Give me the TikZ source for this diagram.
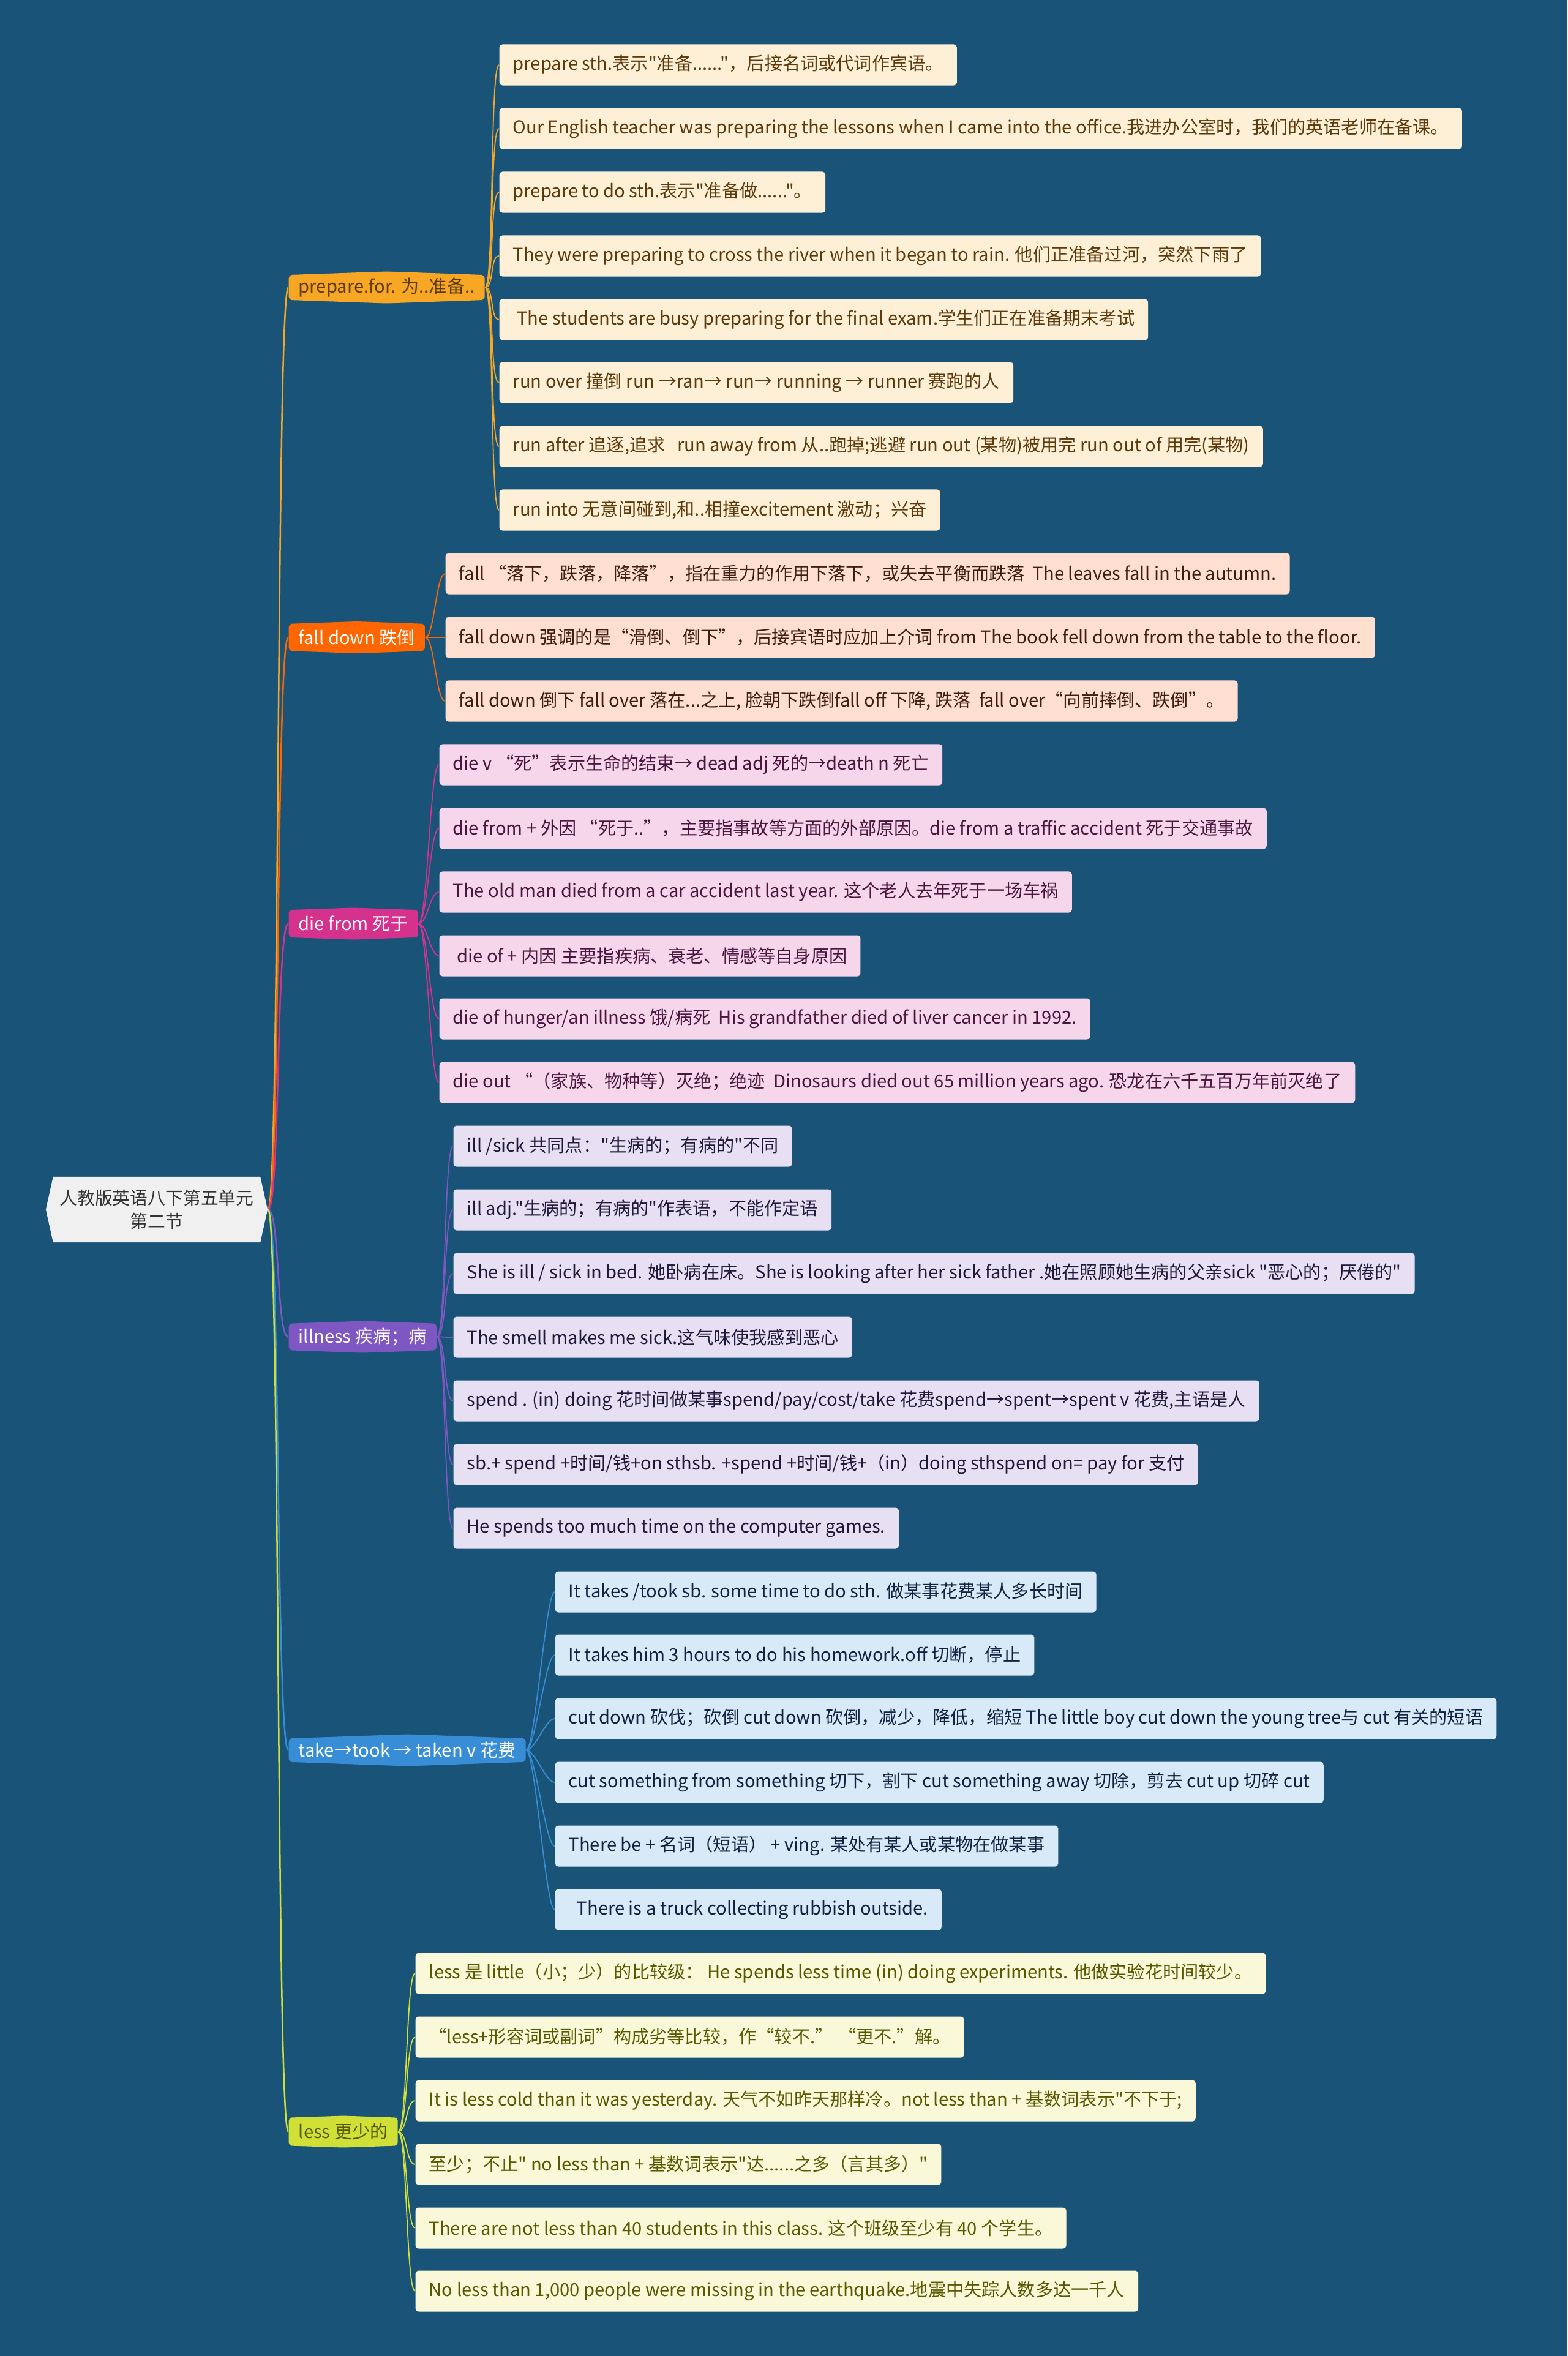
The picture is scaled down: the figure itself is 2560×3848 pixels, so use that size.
\documentclass[tikz,border=0pt]{standalone}
\usepackage{fontspec}
\newfontfamily\cjkfont{Noto Sans CJK SC}
\usepackage{tikz}
\usetikzlibrary{shapes.symbols}
\definecolor{bgblue}{RGB}{25,83,120}
\definecolor{rootfill}{RGB}{240,240,240}
\definecolor{roottext}{RGB}{51,51,51}
\definecolor{prepcol}{RGB}{248,167,36}
\definecolor{prepleaf}{RGB}{254,240,214}
\definecolor{preptext}{RGB}{92,58,12}
\definecolor{fallcol}{RGB}{255,102,0}
\definecolor{fallleaf}{RGB}{255,224,208}
\definecolor{falltext}{RGB}{62,30,16}
\definecolor{diecol}{RGB}{212,50,140}
\definecolor{dieleaf}{RGB}{245,214,235}
\definecolor{dietext}{RGB}{74,22,62}
\definecolor{illcol}{RGB}{126,87,194}
\definecolor{illleaf}{RGB}{230,224,242}
\definecolor{illtext}{RGB}{30,26,58}
\definecolor{takecol}{RGB}{56,142,214}
\definecolor{takeleaf}{RGB}{216,233,247}
\definecolor{taketext}{RGB}{14,36,64}
\definecolor{lesscol}{RGB}{208,224,54}
\definecolor{lessleaf}{RGB}{249,249,218}
\definecolor{lesstext}{RGB}{88,88,0}

\begin{document}
\begin{tikzpicture}[x=0.01cm, y=-0.01cm,
    font=\cjkfont\fontsize{8.3pt}{10pt}\selectfont,
    leaf/.style={rounded corners=0.05cm, anchor=west, minimum height=0.67cm, inner xsep=0.22cm, inner ysep=0pt},
    branch/.style={shape=signal, signal to=north and south, signal pointer angle=176, rounded corners=0.05cm, anchor=west, minimum height=0.52cm, inner xsep=0.16cm, inner ysep=0pt},
    link/.style={line width=0.025cm},
    twig/.style={line width=0.018cm}]

    % background
    \fill[bgblue] (0,0) rectangle (2560,3848);

    % root
    \node[shape=signal, signal to=east and west, signal pointer angle=155, fill=rootfill, text=roottext,
          align=center, font=\cjkfont\fontsize{8.2pt}{11pt}\selectfont, minimum width=3.62cm, minimum height=1.07cm,
          inner sep=0pt] (root) at (256,1975.5) {人教版英语八下第五单元\\第二节};

    % prepare.for
    \node[branch, fill=prepcol, text=preptext] (prep) at (471,469.5) {prepare.for. 为..准备..};
    \node[leaf, fill=prepleaf, text=preptext] (p1) at (815,106) {prepare sth.表示"准备......"，后接名词或代词作宾语。};
    \node[leaf, fill=prepleaf, text=preptext] (p2) at (815,210) {Our English teacher was preparing the lessons when I came into the office.我进办公室时，我们的英语老师在备课。};
    \node[leaf, fill=prepleaf, text=preptext] (p3) at (815,314) {prepare to do sth.表示"准备做......"。};
    \node[leaf, fill=prepleaf, text=preptext] (p4) at (815,418) {They were preparing to cross the river when it began to rain. 他们正准备过河，突然下雨了};
    \node[leaf, fill=prepleaf, text=preptext] (p5) at (815,522) {\ The students are busy preparing for the final exam.学生们正在准备期末考试};
    \node[leaf, fill=prepleaf, text=preptext] (p6) at (815,625) {run over 撞倒 run →ran→ run→ running → runner 赛跑的人};
    \node[leaf, fill=prepleaf, text=preptext] (p7) at (815,729) {run after 追逐,追求\ \ \ run away from 从..跑掉;逃避 run out (某物)被用完 run out of 用完(某物)};
    \node[leaf, fill=prepleaf, text=preptext] (p8) at (815,833) {run into 无意间碰到,和..相撞excitement 激动；兴奋};

    % fall down
    \node[branch, fill=fallcol, text=white] (fall) at (471,1041) {fall down 跌倒};
    \node[leaf, fill=fallleaf, text=falltext] (f1) at (727,937) {fall “落下，跌落，降落”，指在重力的作用下落下，或失去平衡而跌落\ \ The leaves fall in the autumn.};
    \node[leaf, fill=fallleaf, text=falltext] (f2) at (727,1041) {fall down 强调的是“滑倒、倒下”，后接宾语时应加上介词 from The book fell down from the table to the floor.};
    \node[leaf, fill=fallleaf, text=falltext] (f3) at (727,1145) {fall down 倒下 fall over 落在...之上, 脸朝下跌倒fall off 下降, 跌落\ \ fall over“向前摔倒、跌倒”。};

    % die from
    \node[branch, fill=diecol, text=white] (die) at (471,1508.5) {die from 死于};
    \node[leaf, fill=dieleaf, text=dietext] (d1) at (717,1249) {die v “死”表示生命的结束→ dead adj 死的→death n 死亡};
    \node[leaf, fill=dieleaf, text=dietext] (d2) at (717,1353) {die from + 外因 “死于..”，主要指事故等方面的外部原因。die from a traffic accident 死于交通事故};
    \node[leaf, fill=dieleaf, text=dietext] (d3) at (717,1457) {The old man died from a car accident last year. 这个老人去年死于一场车祸};
    \node[leaf, fill=dieleaf, text=dietext] (d4) at (717,1561) {\ die of + 内因 主要指疾病、衰老、情感等自身原因};
    \node[leaf, fill=dieleaf, text=dietext] (d5) at (717,1664) {die of hunger/an illness 饿/病死\ \ His grandfather died of liver cancer in 1992.};
    \node[leaf, fill=dieleaf, text=dietext] (d6) at (717,1768) {die out “（家族、物种等）灭绝；绝迹\ \ Dinosaurs died out 65 million years ago. 恐龙在六千五百万年前灭绝了};

    % illness
    \node[branch, fill=illcol, text=white] (ill) at (471,2183.5) {illness 疾病；病};
    \node[leaf, fill=illleaf, text=illtext] (i1) at (740,1872) {ill /sick 共同点："生病的；有病的"不同};
    \node[leaf, fill=illleaf, text=illtext] (i2) at (740,1976) {ill adj."生病的；有病的"作表语，不能作定语};
    \node[leaf, fill=illleaf, text=illtext] (i3) at (740,2080) {She is ill / sick in bed. 她卧病在床。She is looking after her sick father .她在照顾她生病的父亲sick "恶心的；厌倦的"};
    \node[leaf, fill=illleaf, text=illtext] (i4) at (740,2184) {The smell makes me sick.这气味使我感到恶心};
    \node[leaf, fill=illleaf, text=illtext] (i5) at (740,2288) {spend . (in) doing 花时间做某事spend/pay/cost/take 花费spend→spent→spent v 花费,主语是人};
    \node[leaf, fill=illleaf, text=illtext] (i6) at (740,2392) {sb.+ spend +时间/钱+on sthsb. +spend +时间/钱+（in）doing sthspend on= pay for 支付};
    \node[leaf, fill=illleaf, text=illtext] (i7) at (740,2496) {He spends too much time on the computer games.};

    % take
    \node[branch, fill=takecol, text=white] (take) at (471,2858.5) {take→took → taken v 花费};
    \node[leaf, fill=takeleaf, text=taketext] (t1) at (906,2600) {It takes /took sb. some time to do sth. 做某事花费某人多长时间};
    \node[leaf, fill=takeleaf, text=taketext] (t2) at (906,2703) {It takes him 3 hours to do his homework.off 切断，停止};
    \node[leaf, fill=takeleaf, text=taketext] (t3) at (906,2807) {cut down 砍伐；砍倒 cut down 砍倒，减少，降低，缩短 The little boy cut down the young tree与 cut 有关的短语};
    \node[leaf, fill=takeleaf, text=taketext] (t4) at (906,2911) {cut something from something 切下，割下 cut something away 切除，剪去 cut up 切碎 cut};
    \node[leaf, fill=takeleaf, text=taketext] (t5) at (906,3015) {There be + 名词（短语） + ving. 某处有某人或某物在做某事};
    \node[leaf, fill=takeleaf, text=taketext] (t6) at (906,3119) {\ \ There is a truck collecting rubbish outside.\ };

    % less
    \node[branch, fill=lesscol, text=lesstext] (less) at (471,3481.5) {less 更少的};
    \node[leaf, fill=lessleaf, text=lesstext] (l1) at (678,3223) {less 是 little（小；少）的比较级： He spends less time (in) doing experiments. 他做实验花时间较少。};
    \node[leaf, fill=lessleaf, text=lesstext] (l2) at (678,3327) {“less+形容词或副词”构成劣等比较，作“较不.” “更不.”解。};
    \node[leaf, fill=lessleaf, text=lesstext] (l3) at (678,3431) {It is less cold than it was yesterday. 天气不如昨天那样冷。not less than + 基数词表示"不下于;};
    \node[leaf, fill=lessleaf, text=lesstext] (l4) at (678,3535) {至少；不止" no less than + 基数词表示"达......之多（言其多）"};
    \node[leaf, fill=lessleaf, text=lesstext] (l5) at (678,3639) {There are not less than 40 students in this class. 这个班级至少有 40 个学生。};
    \node[leaf, fill=lessleaf, text=lesstext] (l6) at (678,3742) {No less than 1,000 people were missing in the earthquake.地震中失踪人数多达一千人};

    % connectors
    \draw[link, prepcol] (root.east) .. controls +(20,0) and +(-20,0) .. (prep.west);
    \draw[link, fallcol] (root.east) .. controls +(20,0) and +(-20,0) .. (fall.west);
    \draw[link, diecol] (root.east) .. controls +(20,0) and +(-20,0) .. (die.west);
    \draw[link, illcol] (root.east) .. controls +(20,0) and +(-20,0) .. (ill.west);
    \draw[link, takecol] (root.east) .. controls +(20,0) and +(-20,0) .. (take.west);
    \draw[link, lesscol] (root.east) .. controls +(20,0) and +(-20,0) .. (less.west);
    \foreach \i in {1,...,8}
        \draw[twig, prepcol] (prep.east) .. controls +(15,0) and +(-15,0) .. (p\i.west);
    \foreach \i in {1,...,3}
        \draw[twig, fallcol] (fall.east) .. controls +(15,0) and +(-15,0) .. (f\i.west);
    \foreach \i in {1,...,6}
        \draw[twig, diecol] (die.east) .. controls +(15,0) and +(-15,0) .. (d\i.west);
    \foreach \i in {1,...,7}
        \draw[twig, illcol] (ill.east) .. controls +(15,0) and +(-15,0) .. (i\i.west);
    \foreach \i in {1,...,6}
        \draw[twig, takecol] (take.east) .. controls +(15,0) and +(-15,0) .. (t\i.west);
    \foreach \i in {1,...,6}
        \draw[twig, lesscol] (less.east) .. controls +(15,0) and +(-15,0) .. (l\i.west);
\end{tikzpicture}
\end{document}
